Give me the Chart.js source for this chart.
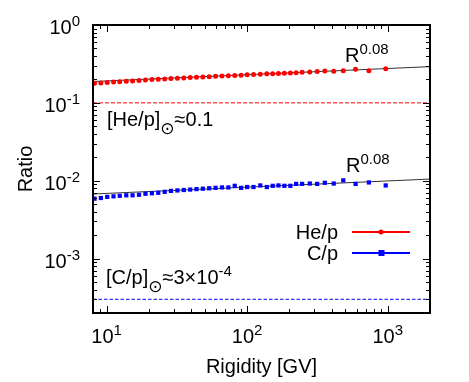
<!DOCTYPE html>
<html>
<head>
<meta charset="utf-8">
<script src="https://cdn.jsdelivr.net/npm/chart.js@4.4.0/dist/chart.umd.min.js"></script>
<style>
  html, body { margin: 0; padding: 0; background: #fff; }
  #wrap { width: 469px; height: 382px; position: relative; }
</style>
</head>
<body>
<div id="wrap"><canvas id="ratioChart"></canvas></div>
<script>
/* ── Data ── */
const rigidity = [8.2, 9.1, 10.1, 11.2, 12.4, 13.8, 15.3, 17.0, 18.9, 21.0, 23.3, 25.9, 28.7, 31.9,
  35.4, 39.3, 43.6, 48.4, 53.7, 59.6, 66.2, 73.5, 81.6, 90.6, 100, 111, 124, 138, 152, 167, 184,
  203, 223, 246, 279, 315, 357, 413, 483, 591, 735, 968];
const heP = [0.178, 0.180, 0.183, 0.185, 0.187, 0.189, 0.191, 0.194, 0.196, 0.199, 0.201, 0.203,
  0.205, 0.207, 0.209, 0.211, 0.213, 0.215, 0.217, 0.219, 0.221, 0.223, 0.225, 0.227, 0.229, 0.231,
  0.233, 0.236, 0.237, 0.238, 0.240, 0.242, 0.243, 0.247, 0.249, 0.252, 0.257, 0.255, 0.259, 0.270,
  0.259, 0.275];
const cP = [0.00588, 0.0060, 0.0062, 0.0063, 0.0064, 0.0065, 0.0065, 0.0066, 0.0068, 0.0069, 0.0070,
  0.0072, 0.0074, 0.0075, 0.0076, 0.0077, 0.0078, 0.0079, 0.0080, 0.0081, 0.0082, 0.0082, 0.0086,
  0.0081, 0.0083, 0.0083, 0.0087, 0.0083, 0.0086, 0.0087, 0.0086, 0.0086, 0.0091, 0.0091, 0.0092,
  0.0091, 0.0094, 0.0092, 0.0101, 0.0091, 0.0095, 0.0087];

// power-law fits R^0.08, end points at the frame edges
const fitR  = [8, 2000];
const heFit = [0.188, 0.292];
const cFit  = [0.00675, 0.0105];

// solar abundance reference levels
const solarR  = [8, 2000];
const heSolar = [0.1, 0.1];
const cSolar  = [3e-4, 3e-4];

const xRange = [8, 2000];
const yRange = [2e-4, 1];
const xTickExp = ['1', '2', '3'];
const yTickExp = ['0', '-1', '-2', '-3'];

const labels = { he: 'He/p', c: 'C/p', x: 'Rigidity [GV]', y: 'Ratio', fit: '0.08' };

/* ── Palette ── */
const C = {
  he:   '#ff0000',
  c:    '#0000ff',
  fit:  '#333333',
  axis: '#000000',
};
const FONT = "'Liberation Sans', Arial, Helvetica, sans-serif";

const pts = (xs, ys) => xs.map((x, i) => ({ x, y: ys[i] }));

/* ═══════════════════════════════════════
   Helpers for gnuplot-like text
═══════════════════════════════════════ */
function font(px) { return px + 'px ' + FONT; }

// base with raised exponent; returns end x
function drawPow(ctx, base, exp, x, y, align, bSize = 20, eSize = 15, raise = 8) {
  ctx.font = font(bSize);
  const wb = ctx.measureText(base).width;
  ctx.font = font(eSize);
  const we = ctx.measureText(exp).width;
  let x0 = x;
  if (align === 'right') x0 = x - wb - we;
  if (align === 'center') x0 = x - (wb + we) / 2;
  ctx.textAlign = 'left';
  ctx.textBaseline = 'alphabetic';
  ctx.font = font(bSize);
  ctx.fillText(base, x0, y);
  ctx.font = font(eSize);
  ctx.fillText(exp, x0 + wb, y - raise);
  return x0 + wb + we;
}

// "[X/p]⊙≈..." label
function drawSolar(ctx, head, tail, tailExp, x, y) {
  ctx.textAlign = 'left';
  ctx.textBaseline = 'alphabetic';
  ctx.font = font(20);
  ctx.fillText(head, x, y);
  let cx = x + ctx.measureText(head).width;
  ctx.font = "17px 'DejaVu Sans', sans-serif";
  ctx.fillText('⊙', cx, y + 8);
  cx += ctx.measureText('⊙').width;
  if (tailExp) {
    drawPow(ctx, tail, tailExp, cx, y, 'left');
  } else {
    ctx.font = font(20);
    ctx.fillText(tail, cx, y);
  }
}

/* ═══════════════════════════════════════
   Frame, ticks, labels, legend
═══════════════════════════════════════ */
const framePlugin = {
  id: 'frame',
  afterDraw(chart) {
    const { ctx, chartArea: a, scales: { x, y } } = chart;
    ctx.save();
    ctx.strokeStyle = C.axis;
    ctx.fillStyle = C.axis;

    // tick marks on all four sides, pointing inward
    ctx.lineWidth = 1;
    ctx.beginPath();
    for (let d = 0; d <= 4; d++) {
      for (let m = 1; m <= 9; m++) {
        const v = m * Math.pow(10, d);
        if (v < xRange[0] || v > xRange[1]) continue;
        const px = Math.round(x.getPixelForValue(v)) + 0.5;
        const len = m === 1 ? 7 : 4;
        ctx.moveTo(px, a.bottom); ctx.lineTo(px, a.bottom - len);
        ctx.moveTo(px, a.top);    ctx.lineTo(px, a.top + len);
      }
    }
    for (let d = -4; d <= 0; d++) {
      for (let m = 1; m <= 9; m++) {
        const v = m * Math.pow(10, d);
        if (v < yRange[0] || v > yRange[1]) continue;
        const py = Math.round(y.getPixelForValue(v)) + 0.5;
        const len = m === 1 ? 7 : 4;
        ctx.moveTo(a.left, py);  ctx.lineTo(a.left + len, py);
        ctx.moveTo(a.right, py); ctx.lineTo(a.right - len, py);
      }
    }
    ctx.stroke();

    // frame
    ctx.lineWidth = 2;
    ctx.strokeRect(a.left, a.top, a.right - a.left, a.bottom - a.top);

    // tick labels
    xTickExp.forEach(e => {
      const px = x.getPixelForValue(Math.pow(10, +e));
      drawPow(ctx, '10', e, px, a.bottom + 30, 'center');
    });
    yTickExp.forEach(e => {
      const py = y.getPixelForValue(Math.pow(10, +e));
      drawPow(ctx, '10', e, 80, py + 9, 'right');
    });

    // axis titles
    ctx.font = font(20);
    ctx.textAlign = 'center';
    ctx.textBaseline = 'alphabetic';
    ctx.fillText(labels.x, (a.left + a.right) / 2, 373);
    ctx.save();
    ctx.translate(32, (a.top + a.bottom) / 2);
    ctx.rotate(-Math.PI / 2);
    ctx.fillText(labels.y, 0, 0);
    ctx.restore();

    // fit annotations
    drawPow(ctx, 'R', labels.fit, 345, 62, 'left');
    drawPow(ctx, 'R', labels.fit, 346, 172, 'left');

    // solar abundance annotations
    drawSolar(ctx, '[He/p]', '≈0.1', null, 107, 126);
    drawSolar(ctx, '[C/p]', '≈3×10', '-4', 106, 284);

    // legend
    const legend = [
      { text: labels.he, color: C.he, y: 232, style: 'circle' },
      { text: labels.c,  color: C.c,  y: 253, style: 'rect' },
    ];
    legend.forEach(l => {
      ctx.font = font(20);
      ctx.textAlign = 'right';
      ctx.fillStyle = C.axis;
      ctx.fillText(l.text, 338, l.y + 6.5);
      ctx.strokeStyle = l.color;
      ctx.fillStyle = l.color;
      ctx.lineWidth = 2;
      ctx.beginPath();
      ctx.moveTo(352, l.y); ctx.lineTo(410, l.y);
      ctx.stroke();
      if (l.style === 'circle') {
        ctx.beginPath(); ctx.arc(381, l.y, 2.5, 0, Math.PI * 2); ctx.fill();
      } else {
        ctx.fillRect(378.5, l.y - 3, 6, 6);
      }
    });
    ctx.restore();
  }
};

/* ═══════════════════════════════════════
   Chart
═══════════════════════════════════════ */
new Chart(document.getElementById('ratioChart'), {
  type: 'scatter',
  data: {
    datasets: [
      {
        label: labels.he,
        data: pts(rigidity, heP),
        backgroundColor: C.he,
        borderColor: C.he,
        pointStyle: 'circle',
        pointRadius: 2.5,
        borderWidth: 0,
      },
      {
        label: labels.c,
        data: pts(rigidity, cP),
        backgroundColor: C.c,
        borderColor: C.c,
        pointStyle: 'rect',
        pointRadius: 3,
        borderWidth: 0,
      },
      {
        data: pts(fitR, heFit),
        showLine: true, borderColor: C.fit, borderWidth: 1, pointRadius: 0,
      },
      {
        data: pts(fitR, cFit),
        showLine: true, borderColor: C.fit, borderWidth: 1, pointRadius: 0,
      },
      {
        data: pts(solarR, heSolar),
        showLine: true, borderColor: C.he, borderWidth: 1, borderDash: [4, 2], pointRadius: 0,
      },
      {
        data: pts(solarR, cSolar),
        showLine: true, borderColor: C.c, borderWidth: 1, borderDash: [3.5, 2], pointRadius: 0,
      },
    ]
  },
  options: {
    responsive: true,
    maintainAspectRatio: false,
    animation: false,
    devicePixelRatio: 1,
    layout: { padding: { left: 93, top: 25, right: 39, bottom: 69 } },
    plugins: {
      legend: { display: false },
      tooltip: { enabled: false },
    },
    scales: {
      x: { type: 'logarithmic', min: xRange[0], max: xRange[1], display: false },
      y: { type: 'logarithmic', min: yRange[0], max: yRange[1], display: false },
    }
  },
  plugins: [framePlugin]
});
</script>
</body>
</html>
